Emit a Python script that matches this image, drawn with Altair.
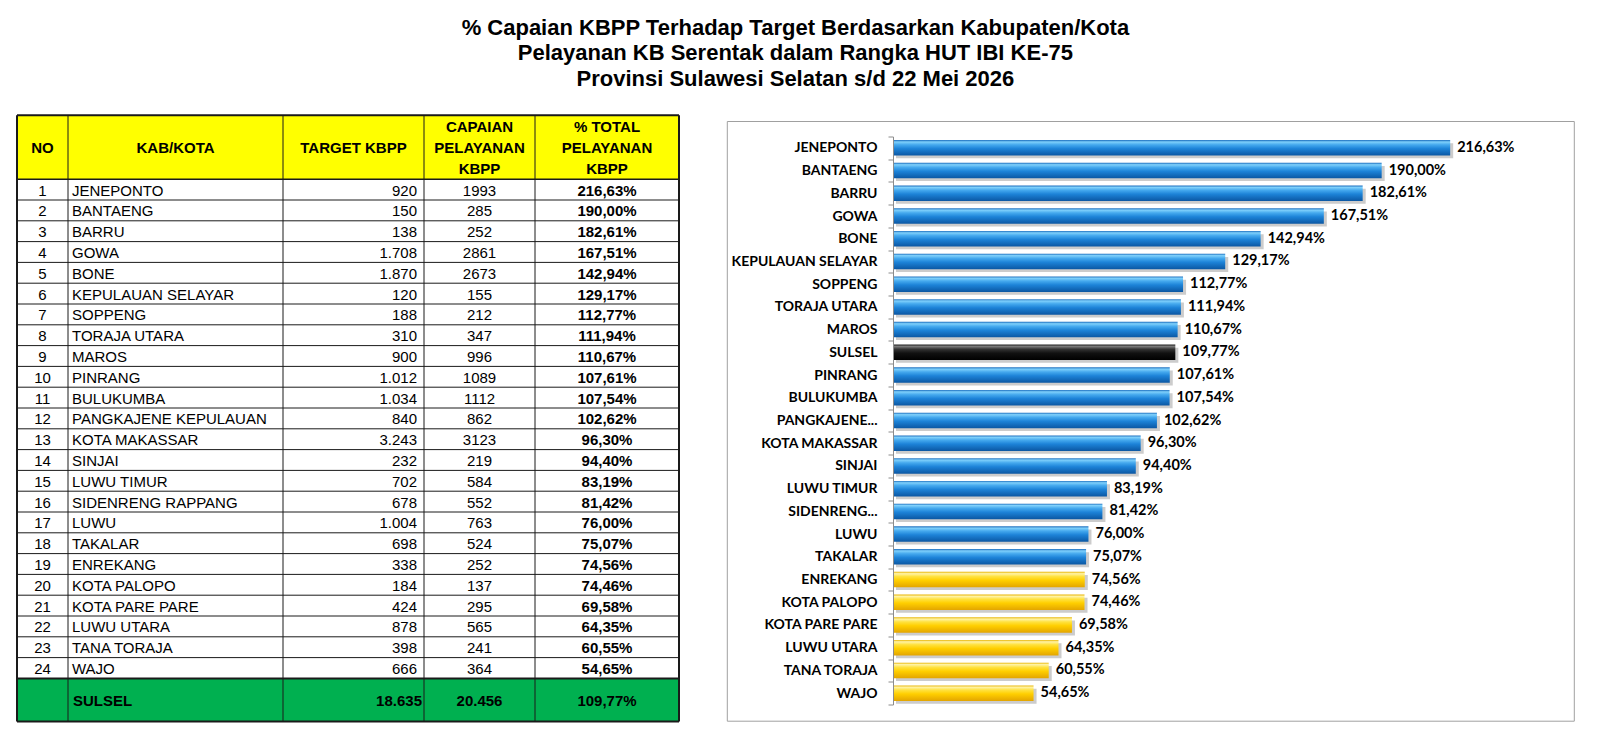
import altair as alt
import pandas as pd

# ---------------- data ----------------
names = ["JENEPONTO", "BANTAENG", "BARRU", "GOWA", "BONE", "KEPULAUAN SELAYAR",
         "SOPPENG", "TORAJA UTARA", "MAROS", "PINRANG", "BULUKUMBA",
         "PANGKAJENE KEPULAUAN", "KOTA MAKASSAR", "SINJAI", "LUWU TIMUR",
         "SIDENRENG RAPPANG", "LUWU", "TAKALAR", "ENREKANG", "KOTA PALOPO",
         "KOTA PARE PARE", "LUWU UTARA", "TANA TORAJA", "WAJO"]
chart_labels = ["JENEPONTO", "BANTAENG", "BARRU", "GOWA", "BONE", "KEPULAUAN SELAYAR",
                "SOPPENG", "TORAJA UTARA", "MAROS", "PINRANG", "BULUKUMBA",
                "PANGKAJENE...", "KOTA MAKASSAR", "SINJAI", "LUWU TIMUR",
                "SIDENRENG...", "LUWU", "TAKALAR", "ENREKANG", "KOTA PALOPO",
                "KOTA PARE PARE", "LUWU UTARA", "TANA TORAJA", "WAJO"]
target = [920, 150, 138, 1708, 1870, 120, 188, 310, 900, 1012, 1034, 840, 3243,
          232, 702, 678, 1004, 698, 338, 184, 424, 878, 398, 666]
capaian = [1993, 285, 252, 2861, 2673, 155, 212, 347, 996, 1089, 1112, 862, 3123,
           219, 584, 552, 763, 524, 252, 137, 295, 565, 241, 364]
pct = [216.63, 190.00, 182.61, 167.51, 142.94, 129.17, 112.77, 111.94, 110.67,
       107.61, 107.54, 102.62, 96.30, 94.40, 83.19, 81.42, 76.00, 75.07, 74.56,
       74.46, 69.58, 64.35, 60.55, 54.65]
total_name = "SULSEL"
total_target = 18635
total_capaian = 20456
total_pct = 109.77
headers = ["NO", "KAB/KOTA", "TARGET KBPP", "CAPAIAN\nPELAYANAN\nKBPP",
           "% TOTAL\nPELAYANAN\nKBPP"]
title_lines = ["% Capaian KBPP Terhadap Target Berdasarkan Kabupaten/Kota",
               "Pelayanan KB Serentak dalam Rangka HUT IBI KE-75",
               "Provinsi Sulawesi Selatan s/d 22 Mei 2026"]


def fmt_thousands(n):
    return f"{n:,}".replace(",", ".")


def fmt_pct(v):
    return f"{v:.2f}".replace(".", ",") + "%"


# ---------------- table layout ----------------
col_edges = [0, 51, 266, 407, 518, 662]
HEADER_H = 64
ROW_H = 20.8
TOTAL_H = 43
LINE_H = 21
TABLE_RAISE = 21.3          # table starts above the bar chart's plot top
N = len(names)
TW = col_edges[-1]
TH = HEADER_H + N * ROW_H + TOTAL_H
FONT_T = "Liberation Sans"

xs = alt.Scale(domain=[0, TW], nice=False, zero=False)
ys = alt.Scale(domain=[0, TH], range=[-TABLE_RAISE, TH - TABLE_RAISE], nice=False, zero=False)

bg = pd.DataFrame([
    {"x": 0, "x2": TW, "y": 0, "y2": HEADER_H, "c": "#ffff00"},
    {"x": 0, "x2": TW, "y": HEADER_H, "y2": HEADER_H + N * ROW_H, "c": "#ffffff"},
    {"x": 0, "x2": TW, "y": HEADER_H + N * ROW_H, "y2": TH, "c": "#00b050"},
])
bg_layer = alt.Chart(bg).mark_rect().encode(
    x=alt.X("x:Q", scale=xs, axis=None), x2="x2:Q",
    y=alt.Y("y:Q", scale=ys, axis=None), y2="y2:Q",
    color=alt.Color("c:N", scale=None))

vl = pd.DataFrame([{"x": e, "y": 0, "y2": TH,
                    "w": 2 if i in (0, len(col_edges) - 1) else 1}
                   for i, e in enumerate(col_edges)])
hy = [0, HEADER_H] + [HEADER_H + (i + 1) * ROW_H for i in range(N)] + [TH]
hw = [2, 1.5] + [1] * (N - 1) + [2, 2]
hl = pd.DataFrame({"y": hy, "x": 0, "x2": TW, "w": hw})
vl_layer = alt.Chart(vl).mark_rule(color="#1a1a1a").encode(
    x=alt.X("x:Q", scale=xs, axis=None),
    y=alt.Y("y:Q", scale=ys, axis=None), y2="y2:Q",
    strokeWidth=alt.StrokeWidth("w:Q", scale=None))
hl_layer = alt.Chart(hl).mark_rule(color="#1a1a1a").encode(
    y=alt.Y("y:Q", scale=ys, axis=None),
    x=alt.X("x:Q", scale=xs, axis=None), x2="x2:Q",
    strokeWidth=alt.StrokeWidth("w:Q", scale=None))

texts = []
cc = [(col_edges[i] + col_edges[i + 1]) / 2 for i in range(5)]
for i, h in enumerate(headers):
    nl = h.count("\n")
    texts.append({"x": cc[i], "y": HEADER_H / 2 + 1 - nl * LINE_H / 2, "t": h,
                  "a": "center", "b": True})
for r in range(N):
    yc = HEADER_H + (r + 0.5) * ROW_H + 1
    texts.append({"x": cc[0], "y": yc, "t": str(r + 1), "a": "center", "b": False})
    texts.append({"x": col_edges[1] + 4, "y": yc, "t": names[r], "a": "left", "b": False})
    texts.append({"x": col_edges[3] - 7, "y": yc, "t": fmt_thousands(target[r]), "a": "right", "b": False})
    texts.append({"x": cc[3], "y": yc, "t": str(capaian[r]), "a": "center", "b": False})
    texts.append({"x": cc[4], "y": yc, "t": fmt_pct(pct[r]), "a": "center", "b": True})
yt = HEADER_H + N * ROW_H + TOTAL_H / 2 + 1
texts.append({"x": col_edges[1] + 5, "y": yt, "t": total_name, "a": "left", "b": True})
texts.append({"x": col_edges[3] - 2, "y": yt, "t": fmt_thousands(total_target), "a": "right", "b": True})
texts.append({"x": cc[3], "y": yt, "t": fmt_thousands(total_capaian), "a": "center", "b": True})
texts.append({"x": cc[4], "y": yt, "t": fmt_pct(total_pct), "a": "center", "b": True})
tdf = pd.DataFrame(texts)

text_layers = []
for a in ["left", "center", "right"]:
    for b in [False, True]:
        sub = tdf[(tdf["a"] == a) & (tdf["b"] == b)]
        if len(sub) == 0:
            continue
        text_layers.append(
            alt.Chart(sub).mark_text(align=a, baseline="middle", font=FONT_T,
                                     fontSize=15, lineHeight=LINE_H, lineBreak="\n",
                                     fontWeight="bold" if b else "normal",
                                     color="black").encode(
                x=alt.X("x:Q", scale=xs, axis=None),
                y=alt.Y("y:Q", scale=ys, axis=None),
                text="t:N"))

table = alt.layer(bg_layer, vl_layer, hl_layer, *text_layers).properties(
    width=TW, height=TH - TABLE_RAISE)

# ---------------- bar chart ----------------
bar_rows = [{"label": chart_labels[i], "pct": pct[i],
             "g": "blue" if pct[i] >= 75 else "yellow"} for i in range(N)]
bar_rows.append({"label": total_name, "pct": total_pct, "g": "black"})
bdf = pd.DataFrame(bar_rows).sort_values("pct", ascending=False)
bdf["txt"] = bdf["pct"].map(fmt_pct)
order = list(bdf["label"])

BW = 643
BH = 568
XMAX = 250
LFONT = "Lato"

yenc = alt.Y("label:N", sort=order, title=None,
             scale=alt.Scale(paddingInner=0, paddingOuter=0),
             axis=alt.Axis(labelFont=LFONT, labelFontWeight="bold", labelFontSize=14,
                           labelColor="black", labelPadding=11, tickSize=5,
                           tickBand="extent", domainColor="#8c8c8c", tickColor="#8c8c8c",
                           labelLimit=300, grid=False, zindex=1))
xenc = alt.X("pct:Q", scale=alt.Scale(domain=[0, XMAX], nice=False), axis=None)

base = alt.Chart(bdf).encode(y=yenc, x=xenc)


def grad(stops):
    return alt.Gradient(gradient="linear", x1=0, x2=0, y1=0, y2=1,
                        stops=[alt.GradientStop(color=c, offset=o) for o, c in stops])


blue = grad([(0, "#1d6fbf"), (0.12, "#7fd0fb"), (0.3, "#45a9ee"), (0.55, "#1d83d8"), (1, "#0b57a3")])
yellow = grad([(0, "#e8b400"), (0.12, "#fff3a6"), (0.3, "#ffe240"), (0.55, "#ffcf00"), (1, "#e3a500")])
black = grad([(0, "#222222"), (0.12, "#7a7a7a"), (0.3, "#333333"), (0.55, "#111111"), (1, "#000000")])

frame_df = pd.DataFrame({"k": [0]})
panel = alt.Chart(frame_df).mark_rect(fill="white", stroke="#a0a0a0", strokeWidth=1).encode(
    x=alt.value(-165.7), x2=alt.value(BW + 38.3), y=alt.value(-15), y2=alt.value(BH + 16.7))

shadow = base.mark_bar(size=15, color="#9a9a9a", opacity=0.5, yOffset=3, xOffset=3)
bars_blue = base.transform_filter(alt.datum.g == "blue").mark_bar(size=15.5, color=blue)
bars_yel = base.transform_filter(alt.datum.g == "yellow").mark_bar(size=15.5, color=yellow)
bars_blk = base.transform_filter(alt.datum.g == "black").mark_bar(size=15.5, color=black)
labels = base.mark_text(align="left", baseline="middle", dx=7, font=LFONT,
                        fontWeight="bold", fontSize=14.5, color="black").encode(text="txt:N")

bars = alt.layer(panel, shadow, bars_blue, bars_yel, bars_blk, labels).properties(
    width=BW, height=BH)

chart = alt.hconcat(table, bars, spacing=46).properties(
    title=alt.TitleParams(text=title_lines, font=FONT_T, fontSize=22, fontWeight="bold",
                          color="black", anchor="middle", lineHeight=25.5, offset=23.5),
    padding={"left": 16, "top": 16.5, "right": 0, "bottom": 0},
).configure_view(stroke=None)

chart.save("out.html", embed_options={"renderer": "svg", "actions": False})
